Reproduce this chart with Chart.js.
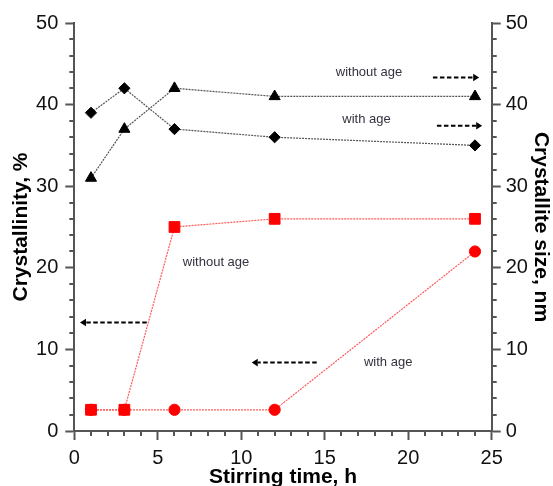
<!DOCTYPE html>
<html>
<head>
<meta charset="utf-8">
<script src="https://cdn.jsdelivr.net/npm/chart.js@4.4.1/dist/chart.umd.min.js"></script>
<style>
  html, body { margin: 0; padding: 0; background: #ffffff; }
  #wrap { width: 553px; height: 486px; position: relative; }
</style>
</head>
<body>
<div id="wrap"><canvas id="c" width="553" height="486"></canvas></div>
<script>
// ---- data ----
const stirringTime = [1, 3, 6, 12, 24];                 // h
const sizeWithoutAge = [31, 37, 42, 41, 41];            // crystallite size, nm (triangles)
const sizeWithAge = [39, 42, 37, 36, 35];               // crystallite size, nm (diamonds)
const crystWithoutAge = [2.6, 2.6, 25, 26, 26];         // crystallinity, % (squares)
const crystWithAge = [2.6, 2.6, 2.6, 2.6, 22];          // crystallinity, % (circles)

const xTitle = 'Stirring time, h';
const yLeftTitle = 'Crystallinity, %';
const yRightTitle = 'Crystallite size, nm';

// annotation labels (data units) and arrows (data units, from tail to head)
const noteLabels = [
  { text: 'without age', x: 17.65, y: 44.0 },
  { text: 'with age', x: 17.5, y: 38.15 },
  { text: 'without age', x: 8.49, y: 20.6 },
  { text: 'with age', x: 18.8, y: 8.38 }
];
const noteArrows = [
  { x1: 21.48, x2: 24.25, y: 43.33 },
  { x1: 21.72, x2: 24.43, y: 37.4 },
  { x1: 4.34, x2: 0.34, y: 13.3 },
  { x1: 14.52, x2: 10.63, y: 8.38 }
];

const FONT = "'Liberation Sans', Arial, sans-serif";
const AXIS_COLOR = '#555555';

function toPts(xs, ys) { return xs.map((x, i) => ({ x: x, y: ys[i] })); }

const minorTicks = {
  id: 'minorTicks',
  afterDraw(chart) {
    const ctx = chart.ctx;
    const ca = chart.chartArea;
    const sx = chart.scales.x, yl = chart.scales.y, yr = chart.scales.y1;
    ctx.save();
    ctx.strokeStyle = AXIS_COLOR;
    ctx.lineWidth = 2;
    ctx.beginPath();
    for (let v = 1; v < 25; v++) {
      if (v % 5 === 0) continue;
      const px = Math.round(sx.getPixelForValue(v));
      ctx.moveTo(px, ca.bottom);
      ctx.lineTo(px, ca.bottom + 5);
    }
    for (let v = 2; v < 50; v += 2) {
      if (v % 10 === 0) continue;
      const pl = Math.round(yl.getPixelForValue(v));
      ctx.moveTo(ca.left, pl);
      ctx.lineTo(ca.left - 5, pl);
      const pr = Math.round(yr.getPixelForValue(v));
      ctx.moveTo(ca.right, pr);
      ctx.lineTo(ca.right + 5, pr);
    }
    ctx.stroke();
    ctx.restore();
  }
};

const notes = {
  id: 'notes',
  afterDatasetsDraw(chart) {
    const ctx = chart.ctx;
    const sx = chart.scales.x, sy = chart.scales.y;
    ctx.save();
    ctx.fillStyle = '#33333f';
    ctx.font = '13px ' + FONT;
    ctx.textAlign = 'center';
    ctx.textBaseline = 'middle';
    noteLabels.forEach(n => {
      ctx.fillText(n.text, sx.getPixelForValue(n.x), sy.getPixelForValue(n.y));
    });
    noteArrows.forEach(a => {
      const x1 = sx.getPixelForValue(a.x1);
      const x2 = sx.getPixelForValue(a.x2);
      const y = sy.getPixelForValue(a.y);
      const dir = x2 > x1 ? 1 : -1;
      const headLen = 6;
      ctx.strokeStyle = '#000';
      ctx.lineWidth = 2;
      ctx.setLineDash([4.5, 2.5]);
      ctx.beginPath();
      ctx.moveTo(x1, y);
      ctx.lineTo(x2 - dir * headLen, y);
      ctx.stroke();
      ctx.setLineDash([]);
      ctx.fillStyle = '#000';
      ctx.beginPath();
      ctx.moveTo(x2, y);
      ctx.lineTo(x2 - dir * headLen, y - 3.8);
      ctx.lineTo(x2 - dir * headLen, y + 3.8);
      ctx.closePath();
      ctx.fill();
      ctx.fillStyle = '#33333f';
    });
    ctx.restore();
  }
};

const tickFont = { family: FONT, size: 20 };
const titleFont = { family: FONT, size: 21, weight: 'bold' };

new Chart(document.getElementById('c'), {
  type: 'scatter',
  data: {
    datasets: [
      {
        label: 'Crystallinity, with age',
        data: toPts(stirringTime, crystWithAge),
        yAxisID: 'y',
        showLine: true,
        borderColor: '#ff5a5a',
        borderWidth: 1.2,
        borderDash: [2, 1],
        pointStyle: 'circle',
        pointRadius: 5.6,
        pointBackgroundColor: '#ff0000',
        pointBorderColor: '#ff0000',
        pointBorderWidth: 1
      },
      {
        label: 'Crystallinity, without age',
        data: toPts(stirringTime, crystWithoutAge),
        yAxisID: 'y',
        showLine: true,
        borderColor: '#ff5a5a',
        borderWidth: 1.2,
        borderDash: [2, 1],
        pointStyle: 'rect',
        pointRadius: 7.6,
        pointBackgroundColor: '#ff0000',
        pointBorderColor: '#ff0000',
        pointBorderWidth: 1
      },
      {
        label: 'Crystallite size, with age',
        data: toPts(stirringTime, sizeWithAge),
        yAxisID: 'y1',
        showLine: true,
        borderColor: '#555555',
        borderWidth: 1.2,
        borderDash: [2, 1],
        pointStyle: 'rectRot',
        pointRadius: 5.6,
        pointBackgroundColor: '#000',
        pointBorderColor: '#000',
        pointBorderWidth: 1
      },
      {
        label: 'Crystallite size, without age',
        data: toPts(stirringTime, sizeWithoutAge),
        yAxisID: 'y1',
        showLine: true,
        borderColor: '#555555',
        borderWidth: 1.2,
        borderDash: [2, 1],
        pointStyle: 'triangle',
        pointRadius: 6.4,
        pointBackgroundColor: '#000',
        pointBorderColor: '#000',
        pointBorderWidth: 1
      }
    ]
  },
  options: {
    responsive: false,
    animation: false,
    events: [],
    clip: false,
    layout: { padding: { top: 23, left: 0, right: 0, bottom: 0 } },
    plugins: { legend: { display: false }, tooltip: { enabled: false } },
    scales: {
      x: {
        type: 'linear', position: 'bottom', min: 0, max: 25,
        afterFit: s => { s.height = 55; },
        ticks: { stepSize: 5, font: tickFont, color: '#111', padding: 6, maxRotation: 0, autoSkip: false },
        grid: { drawOnChartArea: false, tickLength: 9, tickWidth: 2, tickColor: AXIS_COLOR },
        border: { color: AXIS_COLOR, width: 2 },
        title: { display: true, text: xTitle, font: titleFont, color: '#000', padding: { top: 0, bottom: -4.3 } }
      },
      y: {
        type: 'linear', position: 'left', min: 0, max: 50,
        afterFit: s => { s.width = 74.3; },
        ticks: { stepSize: 10, font: tickFont, color: '#111', padding: 7 },
        grid: { drawOnChartArea: false, tickLength: 9, tickWidth: 2, tickColor: AXIS_COLOR },
        border: { color: AXIS_COLOR, width: 2 },
        title: { display: true, text: yLeftTitle, font: titleFont, color: '#000', padding: { top: 9, bottom: 0 } }
      },
      y1: {
        type: 'linear', position: 'right', min: 0, max: 50,
        afterFit: s => { s.width = 61.3; },
        ticks: { stepSize: 10, font: tickFont, color: '#111', padding: 5 },
        grid: { drawOnChartArea: false, tickLength: 9, tickWidth: 2, tickColor: AXIS_COLOR },
        border: { color: AXIS_COLOR, width: 2 },
        title: { display: true, text: yRightTitle, font: titleFont, color: '#000', padding: { top: 0, bottom: 0 } }
      }
    }
  },
  plugins: [minorTicks, notes]
});
</script>
</body>
</html>
